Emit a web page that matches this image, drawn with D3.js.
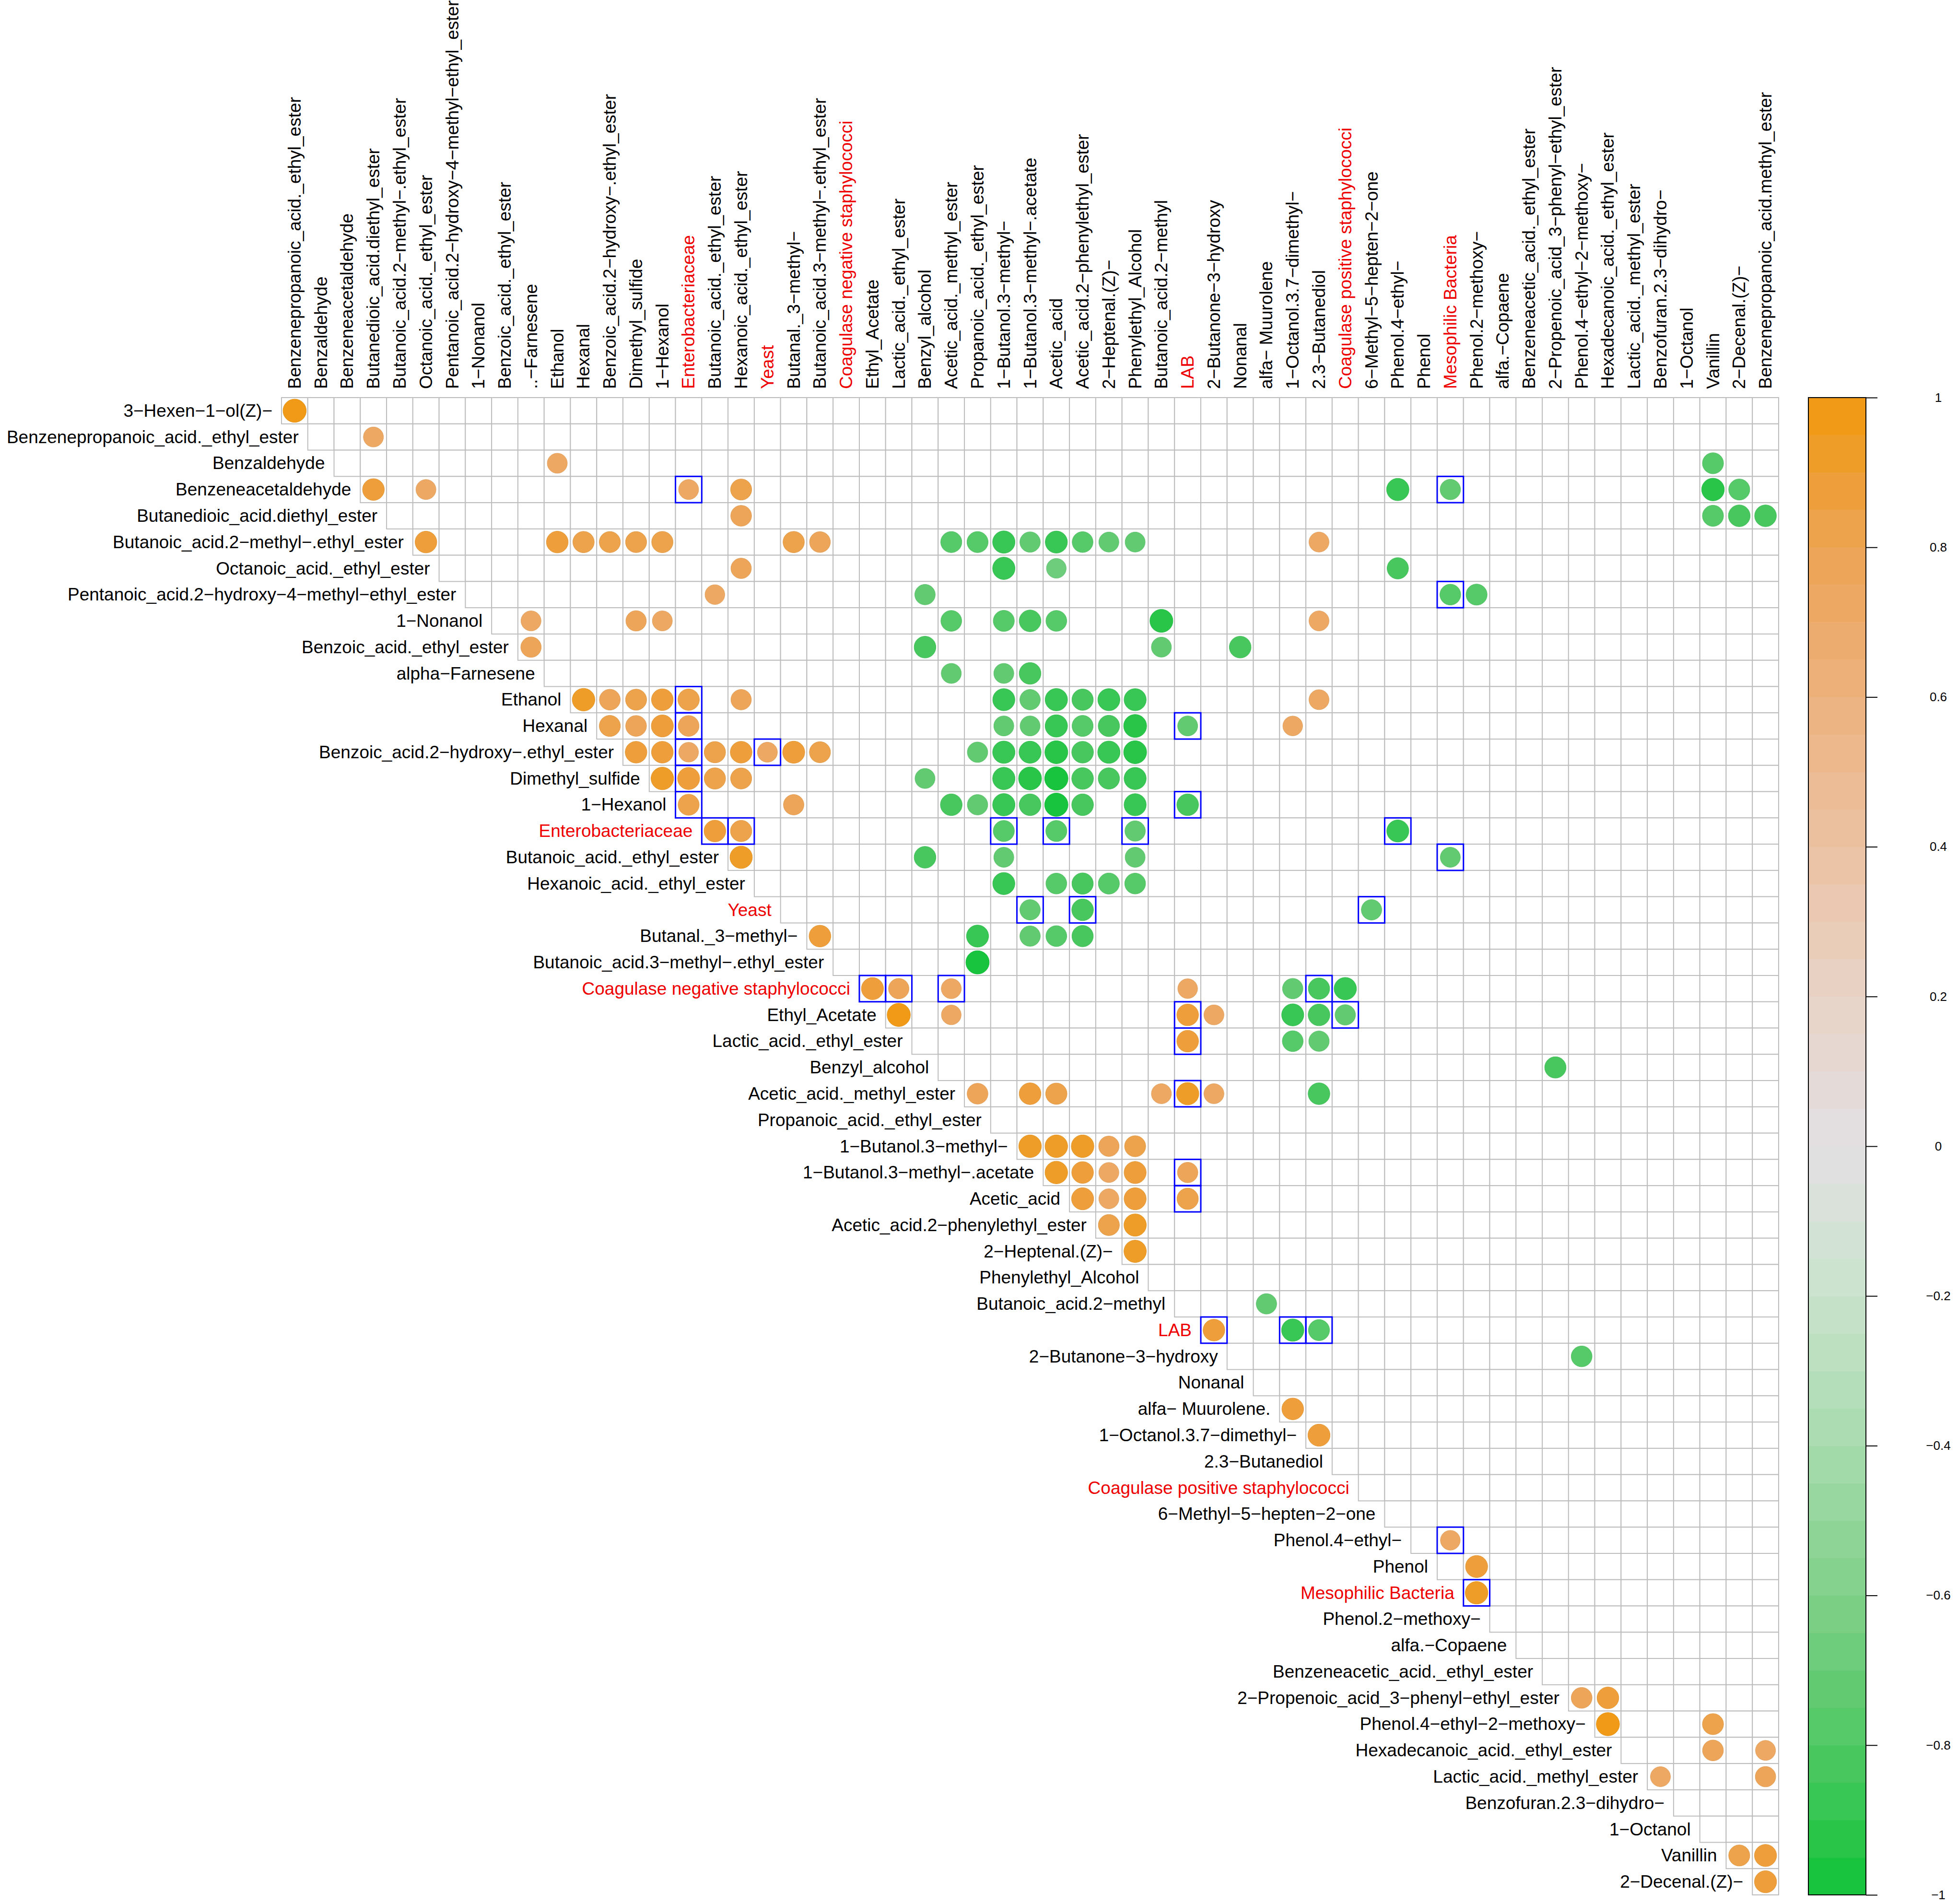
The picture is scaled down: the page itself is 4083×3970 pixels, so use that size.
<!DOCTYPE html>
<html>
<head>
<meta charset="utf-8">
<script src="https://cdn.jsdelivr.net/npm/d3@7/dist/d3.min.js"></script>
<style>
  body { margin: 0; background: #fff; }
  text { font-family: "Liberation Sans", Arial, Helvetica, sans-serif; }
</style>
</head>
<body>
<div id="chart"></div>
<script>
// row labels (variables 0..56) and column labels (variables 1..57)
const rowLabels = ["3−Hexen−1−ol(Z)−", "Benzenepropanoic_acid._ethyl_ester", "Benzaldehyde", "Benzeneacetaldehyde",
  "Butanedioic_acid.diethyl_ester", "Butanoic_acid.2−methyl−.ethyl_ester", "Octanoic_acid._ethyl_ester",
  "Pentanoic_acid.2−hydroxy−4−methyl−ethyl_ester", "1−Nonanol", "Benzoic_acid._ethyl_ester", "alpha−Farnesene",
  "Ethanol", "Hexanal", "Benzoic_acid.2−hydroxy−.ethyl_ester", "Dimethyl_sulfide", "1−Hexanol", "Enterobacteriaceae",
  "Butanoic_acid._ethyl_ester", "Hexanoic_acid._ethyl_ester", "Yeast", "Butanal._3−methyl−",
  "Butanoic_acid.3−methyl−.ethyl_ester", "Coagulase negative staphylococci", "Ethyl_Acetate", "Lactic_acid._ethyl_ester",
  "Benzyl_alcohol", "Acetic_acid._methyl_ester", "Propanoic_acid._ethyl_ester", "1−Butanol.3−methyl−",
  "1−Butanol.3−methyl−.acetate", "Acetic_acid", "Acetic_acid.2−phenylethyl_ester", "2−Heptenal.(Z)−",
  "Phenylethyl_Alcohol", "Butanoic_acid.2−methyl", "LAB", "2−Butanone−3−hydroxy", "Nonanal", "alfa− Muurolene.",
  "1−Octanol.3.7−dimethyl−", "2.3−Butanediol", "Coagulase positive staphylococci", "6−Methyl−5−hepten−2−one",
  "Phenol.4−ethyl−", "Phenol", "Mesophilic Bacteria", "Phenol.2−methoxy−", "alfa.−Copaene",
  "Benzeneacetic_acid._ethyl_ester", "2−Propenoic_acid_3−phenyl−ethyl_ester", "Phenol.4−ethyl−2−methoxy−",
  "Hexadecanoic_acid._ethyl_ester", "Lactic_acid._methyl_ester", "Benzofuran.2.3−dihydro−", "1−Octanol",
  "Vanillin", "2−Decenal.(Z)−"];

const colLabels = ["Benzenepropanoic_acid._ethyl_ester", "Benzaldehyde", "Benzeneacetaldehyde",
  "Butanedioic_acid.diethyl_ester", "Butanoic_acid.2−methyl−.ethyl_ester", "Octanoic_acid._ethyl_ester",
  "Pentanoic_acid.2−hydroxy−4−methyl−ethyl_ester", "1−Nonanol", "Benzoic_acid._ethyl_ester", "..−Farnesene",
  "Ethanol", "Hexanal", "Benzoic_acid.2−hydroxy−.ethyl_ester", "Dimethyl_sulfide", "1−Hexanol", "Enterobacteriaceae",
  "Butanoic_acid._ethyl_ester", "Hexanoic_acid._ethyl_ester", "Yeast", "Butanal._3−methyl−",
  "Butanoic_acid.3−methyl−.ethyl_ester", "Coagulase negative staphylococci", "Ethyl_Acetate", "Lactic_acid._ethyl_ester",
  "Benzyl_alcohol", "Acetic_acid._methyl_ester", "Propanoic_acid._ethyl_ester", "1−Butanol.3−methyl−",
  "1−Butanol.3−methyl−.acetate", "Acetic_acid", "Acetic_acid.2−phenylethyl_ester", "2−Heptenal.(Z)−",
  "Phenylethyl_Alcohol", "Butanoic_acid.2−methyl", "LAB", "2−Butanone−3−hydroxy", "Nonanal", "alfa− Muurolene",
  "1−Octanol.3.7−dimethyl−", "2.3−Butanediol", "Coagulase positive staphylococci", "6−Methyl−5−hepten−2−one",
  "Phenol.4−ethyl−", "Phenol", "Mesophilic Bacteria", "Phenol.2−methoxy−", "alfa.−Copaene",
  "Benzeneacetic_acid._ethyl_ester", "2−Propenoic_acid_3−phenyl−ethyl_ester", "Phenol.4−ethyl−2−methoxy−",
  "Hexadecanoic_acid._ethyl_ester", "Lactic_acid._methyl_ester", "Benzofuran.2.3−dihydro−", "1−Octanol",
  "Vanillin", "2−Decenal.(Z)−", "Benzenepropanoic_acid.methyl_ester"];

// microbial groups, printed in red
const microbes = ["Enterobacteriaceae", "Yeast", "Coagulase negative staphylococci", "LAB",
  "Coagulase positive staphylococci", "Mesophilic Bacteria"];

// [variable a, variable b, r]  (a < b; a = row, b = column)
const correlations = [
  [0,1,0.97],
  [1,4,0.72],
  [2,11,0.72],[2,55,-0.8],
  [3,4,0.85],[3,6,0.72],[3,16,0.72],[3,18,0.8],[3,43,-0.9],[3,45,-0.75],[3,55,-0.92],[3,56,-0.8],
  [4,18,0.78],[4,55,-0.8],[4,56,-0.85],[4,57,-0.85],
  [5,6,0.85],[5,11,0.85],[5,12,0.82],[5,13,0.8],[5,14,0.8],[5,15,0.82],[5,20,0.82],[5,21,0.78],
  [5,26,-0.8],[5,27,-0.8],[5,28,-0.9],[5,29,-0.75],[5,30,-0.88],[5,31,-0.78],[5,32,-0.72],[5,33,-0.72],[5,40,0.72],
  [6,18,0.75],[6,28,-0.9],[6,30,-0.7],[6,43,-0.82],
  [7,17,0.7],[7,25,-0.75],[7,45,-0.78],[7,46,-0.8],
  [8,10,0.72],[8,14,0.75],[8,15,0.72],[8,26,-0.78],[8,28,-0.8],[8,29,-0.85],[8,30,-0.78],[8,34,-0.95],[8,40,0.72],
  [9,10,0.75],[9,25,-0.85],[9,34,-0.72],[9,37,-0.85],
  [10,26,-0.72],[10,28,-0.72],[10,29,-0.85],
  [11,12,0.92],[11,13,0.78],[11,14,0.8],[11,15,0.85],[11,16,0.83],[11,18,0.75],
  [11,28,-0.88],[11,29,-0.75],[11,30,-0.9],[11,31,-0.82],[11,32,-0.88],[11,33,-0.88],[11,40,0.72],
  [12,13,0.8],[12,14,0.78],[12,15,0.88],[12,16,0.78],
  [12,28,-0.72],[12,29,-0.72],[12,30,-0.9],[12,31,-0.8],[12,32,-0.82],[12,33,-0.95],[12,35,-0.72],[12,39,0.7],
  [13,14,0.85],[13,15,0.85],[13,16,0.7],[13,17,0.82],[13,18,0.85],[13,19,0.72],[13,20,0.88],[13,21,0.8],
  [13,27,-0.75],[13,28,-0.9],[13,29,-0.88],[13,30,-0.95],[13,31,-0.85],[13,32,-0.9],[13,33,-0.95],
  [14,15,0.92],[14,16,0.88],[14,17,0.82],[14,18,0.8],
  [14,25,-0.72],[14,28,-0.9],[14,29,-0.95],[14,30,-0.98],[14,31,-0.85],[14,32,-0.82],[14,33,-0.88],
  [15,16,0.8],[15,20,0.75],[15,26,-0.85],[15,27,-0.75],[15,28,-0.9],[15,29,-0.85],[15,30,-0.98],[15,31,-0.85],
  [15,33,-0.88],[15,35,-0.85],
  [16,17,0.85],[16,18,0.82],[16,28,-0.8],[16,30,-0.8],[16,33,-0.75],[16,43,-0.88],
  [17,18,0.9],[17,25,-0.85],[17,28,-0.72],[17,33,-0.72],[17,45,-0.72],
  [18,28,-0.88],[18,30,-0.78],[18,31,-0.82],[18,32,-0.8],[18,33,-0.78],
  [19,29,-0.75],[19,31,-0.85],[19,42,-0.75],
  [20,21,0.85],[20,27,-0.88],[20,29,-0.75],[20,30,-0.78],[20,31,-0.82],
  [21,27,-0.98],
  [22,23,0.88],[22,24,0.75],[22,26,0.72],[22,35,0.7],[22,39,-0.75],[22,40,-0.82],[22,41,-0.9],
  [23,24,0.97],[23,26,0.7],[23,35,0.85],[23,36,0.72],[23,39,-0.88],[23,40,-0.85],[23,41,-0.75],
  [24,35,0.85],[24,39,-0.78],[24,40,-0.75],
  [25,49,-0.82],
  [26,27,0.78],[26,29,0.85],[26,30,0.82],[26,34,0.72],[26,35,0.9],[26,36,0.72],[26,40,-0.85],
  [28,29,0.92],[28,30,0.92],[28,31,0.92],[28,32,0.75],[28,33,0.8],
  [29,30,0.92],[29,31,0.85],[29,32,0.72],[29,33,0.88],[29,35,0.75],
  [30,31,0.88],[30,32,0.72],[30,33,0.88],[30,35,0.82],
  [31,32,0.8],[31,33,0.9],
  [32,33,0.9],
  [34,38,-0.75],
  [35,36,0.85],[35,39,-0.9],[35,40,-0.8],
  [36,50,-0.78],
  [38,39,0.85],
  [39,40,0.88],
  [43,45,0.7],
  [44,46,0.88],
  [45,46,0.92],
  [49,50,0.78],[49,51,0.85],
  [50,51,0.97],[50,55,0.8],
  [51,55,0.78],[51,57,0.72],
  [52,53,0.72],[52,57,0.75],
  [55,56,0.8],[55,57,0.88],
  [56,57,0.88]
];

// cells outlined in blue: [variable a, variable b]
const boxed = [[3,16],[3,45],[7,45],[11,16],[12,16],[12,35],[13,16],[13,19],[14,16],[15,16],[15,35],
  [16,17],[16,18],[16,28],[16,30],[16,33],[16,43],[17,45],[19,29],[19,31],[19,42],
  [22,23],[22,24],[22,26],[22,40],[23,35],[23,41],[24,35],[26,35],[29,35],[30,35],
  [35,36],[35,39],[35,40],[43,45],[45,46]];

const colorStops = [-1, -0.8, -0.6, -0.4, -0.2, 0, 0.2, 0.4, 0.6, 0.8, 1];
const colorValues = ["#10c339", "#50c864", "#80d08a", "#a8dbad", "#c9e3cc", "#e2dfe2",
  "#e8d3c6", "#ebc2a4", "#edb27e", "#eda355", "#f0990f"];
const legendTicks = [-1, -0.8, -0.6, -0.4, -0.2, 0, 0.2, 0.4, 0.6, 0.8, 1];

const width = 4083, height = 3970;
const nCells = rowLabels.length;
const gridLeft = 587, gridTop = 829, gridSize = 3122;
const nBands = 40;

const svg = d3.select("#chart").append("svg")
  .attr("width", width).attr("height", height)
  .style("background", "#fff");

const x = d3.scaleBand().domain(d3.range(1, nCells + 1)).range([gridLeft, gridLeft + gridSize]);
const y = d3.scaleBand().domain(d3.range(0, nCells)).range([gridTop, gridTop + gridSize]);
const bw = x.bandwidth();

const ramp = d3.scaleLinear().domain(colorStops).range(colorValues).interpolate(d3.interpolateRgb);
const bandColors = d3.range(nBands).map(k => ramp(-1 + (k + 0.5) * 2 / nBands));
const colorOf = d3.scaleQuantize().domain([-1, 1]).range(bandColors);

// grid of the upper triangle
const cells = [];
for (let i = 0; i < nCells; i++) {
  for (let j = i + 1; j <= nCells; j++) cells.push([i, j]);
}
svg.append("g").selectAll("rect").data(cells).join("rect")
  .attr("x", d => x(d[1])).attr("y", d => y(d[0]))
  .attr("width", bw).attr("height", bw)
  .attr("fill", "white").attr("stroke", "#bdbdbd").attr("stroke-width", 2);

svg.append("g").selectAll("circle").data(correlations).join("circle")
  .attr("cx", d => x(d[1]) + bw / 2)
  .attr("cy", d => y(d[0]) + bw / 2)
  .attr("r", d => 0.45 * Math.sqrt(Math.abs(d[2])) * bw)
  .attr("fill", d => colorOf(d[2]))
  .attr("stroke", d => d3.color(colorOf(d[2])).darker(0.15))
  .attr("stroke-width", 1);

svg.append("g").selectAll("rect").data(boxed).join("rect")
  .attr("x", d => x(d[1])).attr("y", d => y(d[0]))
  .attr("width", bw).attr("height", bw)
  .attr("fill", "none").attr("stroke", "#0000ff").attr("stroke-width", 3);

// labels
const labelColor = name => microbes.includes(name) ? "#ee0000" : "#000";

svg.append("g").selectAll("text").data(rowLabels).join("text")
  .attr("x", (d, i) => x(i + 1) - 19)
  .attr("y", (d, i) => y(i) + bw / 2)
  .attr("text-anchor", "end")
  .attr("dominant-baseline", "central")
  .attr("font-size", 37)
  .attr("fill", labelColor)
  .text(d => d);

svg.append("g").selectAll("text").data(colLabels).join("text")
  .attr("transform", (d, i) => `translate(${x(i + 1) + bw / 2},${gridTop - 18}) rotate(-90)`)
  .attr("text-anchor", "start")
  .attr("dominant-baseline", "central")
  .attr("font-size", 37)
  .attr("fill", labelColor)
  .text(d => d);

// colour legend
const cbLeft = 3771, cbWidth = 120;
const cb = d3.scaleLinear().domain([-1, 1]).range([gridTop + gridSize, gridTop]);
const legend = svg.append("g");
legend.selectAll("rect").data(bandColors).join("rect")
  .attr("x", cbLeft)
  .attr("y", (d, k) => cb(-1 + (k + 1) * 2 / nBands))
  .attr("width", cbWidth)
  .attr("height", (d, k) => cb(-1 + k * 2 / nBands) - cb(-1 + (k + 1) * 2 / nBands) + 0.5)
  .attr("fill", d => d);
legend.append("rect")
  .attr("x", cbLeft).attr("y", cb(1))
  .attr("width", cbWidth).attr("height", cb(-1) - cb(1))
  .attr("fill", "none").attr("stroke", "#000").attr("stroke-width", 2);

const axis = d3.axisRight(cb).tickValues(legendTicks).tickSize(24).tickFormat(d3.format("~g"));
const ag = legend.append("g").attr("transform", `translate(${cbLeft + cbWidth},0)`).call(axis);
ag.select(".domain").remove();
ag.selectAll(".tick line").attr("stroke", "#000").attr("stroke-width", 2);
ag.selectAll(".tick text")
  .attr("x", 4042 - cbLeft - cbWidth)
  .attr("text-anchor", "middle")
  .attr("font-size", 26)
  .attr("font-family", "Liberation Sans, Arial, sans-serif")
  .attr("fill", "#000");
</script>
</body>
</html>
